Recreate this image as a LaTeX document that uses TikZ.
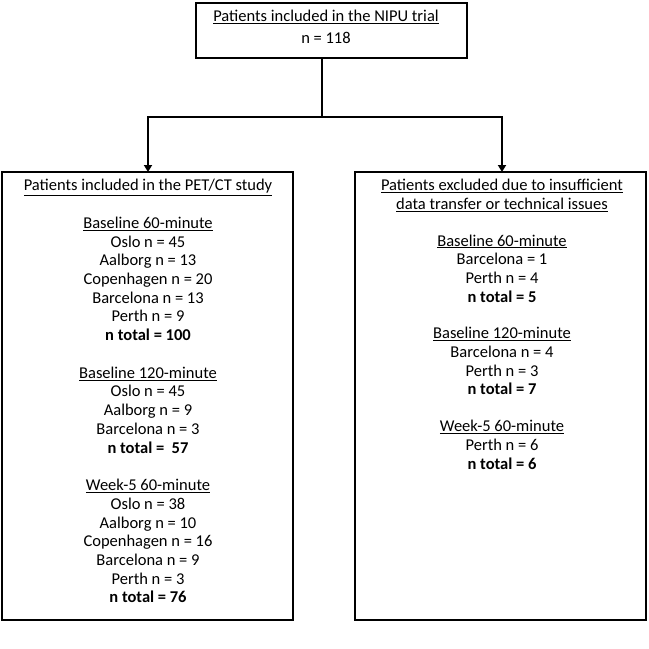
\documentclass[tikz,border=0pt]{standalone}
\usepackage{fontspec}
\setmainfont{Carlito}
\usetikzlibrary{arrows.meta}
\begin{document}
\begin{tikzpicture}[x=1pt,y=-1pt,
  box/.style={draw,line width=2.4pt,inner sep=0pt},
  txt/.style={align=center,font=\fontsize{16.5}{18.7}\selectfont,inner sep=0pt,anchor=north},
  conn/.style={line width=2.4pt,-{Triangle[length=7pt,width=8pt]}}]
\useasboundingbox (0,0) rectangle (649,649);
\draw[box] (196,3) rectangle (467,58);
\draw[box] (2,172) rectangle (293,620);
\draw[box] (355,172) rectangle (646,620);
\coordinate (top) at (322,58);
\coordinate (mid) at (322,117);
\coordinate (lt) at (148,172);
\coordinate (rt) at (502,172);
\node[txt] (t) at (326,10) {\underline{Patients included in the NIPU trial}\\[3pt]n = 118};
\node[txt] (l) at (148,179) {\underline{Patients included in the PET/CT study}\\[19pt]
\underline{Baseline 60-minute}\\Oslo n = 45\\Aalborg n = 13\\Copenhagen n = 20\\Barcelona n = 13\\Perth n = 9\\\textbf{n total = 100}\\[19pt]
\underline{Baseline 120-minute}\\Oslo n = 45\\Aalborg n = 9\\Barcelona n = 3\\\textbf{n total =\ \ 57}\\[19pt]
\underline{Week-5 60-minute}\\Oslo n = 38\\Aalborg n = 10\\Copenhagen n = 16\\Barcelona n = 9\\Perth n = 3\\\textbf{n total = 76}};
\node[txt] (r) at (502,179) {\underline{Patients excluded due to insufficient}\\\underline{data transfer or technical issues}\\[18pt]
\underline{Baseline 60-minute}\\Barcelona = 1\\Perth n = 4\\\textbf{n total = 5}\\[18pt]
\underline{Baseline 120-minute}\\Barcelona n = 4\\Perth n = 3\\\textbf{n total = 7}\\[18pt]
\underline{Week-5 60-minute}\\Perth n = 6\\\textbf{n total = 6}};
\draw[line width=2.4pt] (top) -- (mid);
\draw[conn] (mid) -| (lt);
\draw[conn] (mid) -| (rt);
\end{tikzpicture}
\end{document}
